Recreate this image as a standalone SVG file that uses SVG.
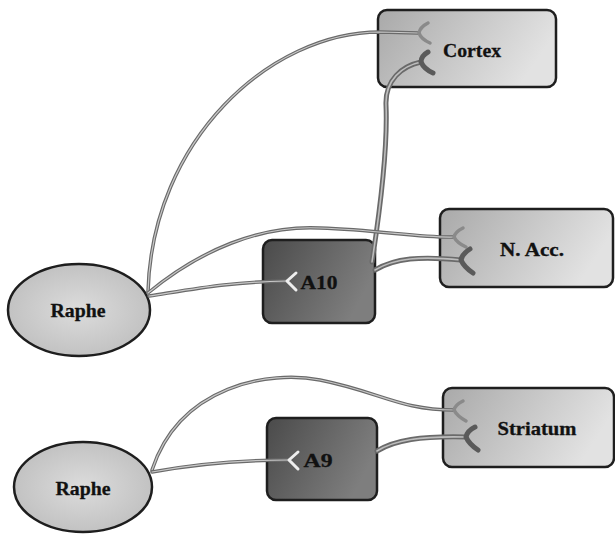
<svg xmlns="http://www.w3.org/2000/svg" width="615" height="541" viewBox="0 0 615 541">
<defs>
<linearGradient id="gLight" x1="0" y1="0" x2="1" y2="0.3">
<stop offset="0" stop-color="#a9a9a9"/><stop offset="1" stop-color="#e2e2e2"/>
</linearGradient>
<linearGradient id="gDark" x1="0" y1="0" x2="1" y2="0.4">
<stop offset="0" stop-color="#4a4a4a"/><stop offset="1" stop-color="#7e7e7e"/>
</linearGradient>
<radialGradient id="gEll" cx="0.5" cy="0.5" r="0.6">
<stop offset="0" stop-color="#dcdcdc"/><stop offset="1" stop-color="#bdbdbd"/>
</radialGradient>
</defs>
<style>
.box{stroke:#1e1e1e;stroke-width:2.5}
.lt{fill:url(#gLight)}
.dk{fill:url(#gDark)}
.ell{fill:url(#gEll);stroke:#1e1e1e;stroke-width:2.5}
.lbl{font-family:"Liberation Serif",serif;font-weight:bold;font-size:19px;fill:#111;text-anchor:middle;dominant-baseline:central;stroke:#111;stroke-width:0.3}
.w{fill:none;stroke:#6a6a6a;stroke-width:3.5;stroke-linecap:round;stroke-linejoin:round}
.c{fill:none;stroke:#c8c8c8;stroke-width:1.2;stroke-linecap:round;stroke-linejoin:round}
.wt{fill:none;stroke:#6a6a6a;stroke-width:5;stroke-linecap:round;stroke-linejoin:round}
.ct{fill:none;stroke:#bdbdbd;stroke-width:1.6;stroke-linecap:round;stroke-linejoin:round}
.rl{fill:none;stroke:#eeeeee;stroke-width:3;stroke-linecap:round;stroke-linejoin:round}
.rd{fill:none;stroke:#5a5a5a;stroke-width:5;stroke-linecap:round;stroke-linejoin:round}
.rm{fill:none;stroke:#8a8a8a;stroke-width:3.5;stroke-linecap:round;stroke-linejoin:round}
</style>

<g id="cortex">
<rect class="box lt" x="378" y="10" width="178" height="77" rx="9"/>
<text class="lbl" x="472" y="50" textLength="58" lengthAdjust="spacingAndGlyphs">Cortex</text>
</g>
<g id="nacc">
<rect class="box lt" x="440" y="209" width="173" height="78" rx="9"/>
<text class="lbl" x="532" y="249" textLength="64" lengthAdjust="spacingAndGlyphs">N. Acc.</text>
</g>
<g id="a10">
<rect class="box dk" x="263" y="240" width="112" height="83" rx="9"/>
<text class="lbl" x="319" y="282" textLength="37" lengthAdjust="spacingAndGlyphs">A10</text>
</g>
<g id="raphe1">
<ellipse class="ell" cx="79" cy="310" rx="71" ry="46"/>
<text class="lbl" x="78" y="310" textLength="55" lengthAdjust="spacingAndGlyphs">Raphe</text>
</g>
<g id="striatum">
<rect class="box lt" x="443" y="388" width="171" height="79" rx="9"/>
<text class="lbl" x="537" y="428" textLength="79" lengthAdjust="spacingAndGlyphs">Striatum</text>
</g>
<g id="a9">
<rect class="box dk" x="267" y="418" width="110" height="82" rx="9"/>
<text class="lbl" x="318" y="460" textLength="29" lengthAdjust="spacingAndGlyphs">A9</text>
</g>
<g id="raphe2">
<ellipse class="ell" cx="83" cy="487" rx="69" ry="45"/>
<text class="lbl" x="83" y="488" textLength="55" lengthAdjust="spacingAndGlyphs">Raphe</text>
</g>

<g id="connectors">
<!-- Raphe -> Cortex (upper) -->
<path class="w" d="M148,292 C152,140 270,32 380,32 L418,33"/>
<path class="c" d="M148,292 C152,140 270,32 380,32 L418,33"/>
<path class="rm" d="M428,23 Q420,27 419,33 Q421,39 430,43"/>
<!-- A10 -> Cortex (lower) -->
<path class="wt" d="M372,262 C380,210 388,150 386,105 C385,80 402,66 421,62"/>
<path class="ct" d="M372,262 C380,210 388,150 386,105 C385,80 402,66 421,62"/>
<path class="rd" d="M428,52 Q421,56 421,62 Q424,69 433,73"/>
<!-- Raphe -> N. Acc. (upper) -->
<path class="w" d="M148,293 C200,250 260,225 320,228 C380,230 420,238 454,237"/>
<path class="c" d="M148,293 C200,250 260,225 320,228 C380,230 420,238 454,237"/>
<path class="rm" d="M463,228 Q455,232 454,237 Q457,243 466,247"/>
<!-- A10 -> N. Acc. (lower) -->
<path class="wt" d="M375,270 C395,258 420,256 461,260"/>
<path class="ct" d="M375,270 C395,258 420,256 461,260"/>
<path class="rd" d="M470,249 Q462,254 461,260 Q464,267 473,273"/>
<!-- Raphe -> A10 -->
<path class="w" d="M149,296 C200,288 230,282 287,281"/>
<path class="c" d="M149,296 C200,288 230,282 287,281"/>
<path class="rl" d="M296,273 L287,281 L296,290"/>
<!-- Raphe2 -> Striatum (upper) -->
<path class="w" d="M152,470 C180,385 270,370 320,380 C380,392 400,410 454,410"/>
<path class="c" d="M152,470 C180,385 270,370 320,380 C380,392 400,410 454,410"/>
<path class="rm" d="M463,401 Q455,405 454,410 Q457,416 466,421"/>
<!-- A9 -> Striatum (lower) -->
<path class="wt" d="M377,451 C395,440 420,436 466,437"/>
<path class="ct" d="M377,451 C395,440 420,436 466,437"/>
<path class="rd" d="M475,427 Q467,431 466,437 Q469,444 478,450"/>
<!-- Raphe2 -> A9 -->
<path class="w" d="M152,472 C200,463 240,460 289,460"/>
<path class="c" d="M152,472 C200,463 240,460 289,460"/>
<path class="rl" d="M298,452 L289,460 L298,469"/>
</g>
</svg>
